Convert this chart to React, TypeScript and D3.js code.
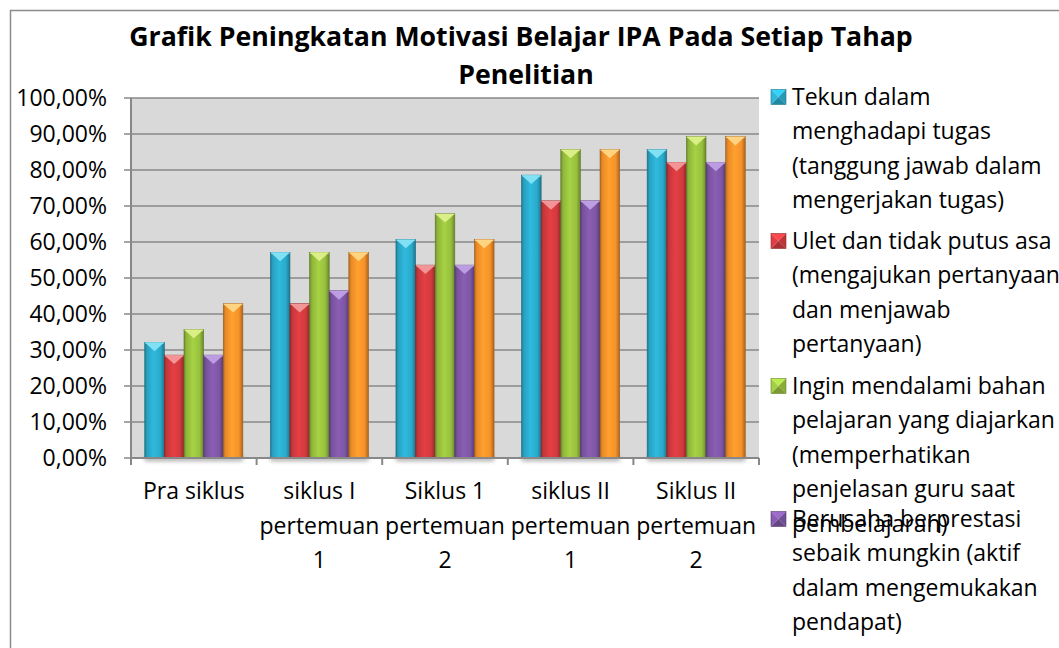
import React from "react";
import * as d3 from "d3";

// ---------- data ----------
const categoryLines: string[][] = [
  ["Pra siklus"],
  ["siklus I", "pertemuan", "1"],
  ["Siklus 1", "pertemuan", "2"],
  ["siklus II", "pertemuan", "1"],
  ["Siklus II", "pertemuan", "2"],
];
const categories = categoryLines.map((l) => l.join(" "));

const tekun = [0.3214, 0.5714, 0.6071, 0.7857, 0.8571];
const ulet = [0.2857, 0.4286, 0.5357, 0.7143, 0.8214];
const ingin = [0.3571, 0.5714, 0.6786, 0.8571, 0.8929];
const berusaha = [0.2857, 0.4643, 0.5357, 0.7143, 0.8214];
const seri5 = [0.4286, 0.5714, 0.6071, 0.8571, 0.8929];

const seriesValues = [tekun, ulet, ingin, berusaha, seri5];
const seriesColors = ["#2AAACB", "#D13A3E", "#98C03E", "#7E56A5", "#F6922A"];
const seriesCaps = ["#86E3F6", "#F3999B", "#DDF08A", "#BFA0E6", "#FFD785"];

const legendLines: string[][] = [
  ["Tekun dalam", "menghadapi tugas", "(tanggung jawab dalam", "mengerjakan tugas)"],
  ["Ulet dan tidak putus asa", "(mengajukan pertanyaan", "dan menjawab", "pertanyaan)"],
  ["Ingin mendalami bahan", "pelajaran yang diajarkan", "(memperhatikan", "penjelasan guru saat", "pembelajaran)"],
  ["Berusaha berprestasi", "sebaik mungkin (aktif", "dalam mengemukakan", "pendapat)"],
];

const titleLines = ["Grafik Peningkatan Motivasi Belajar IPA Pada Setiap Tahap", "Penelitian"];
const yTicks = [0, 0.1, 0.2, 0.3, 0.4, 0.5, 0.6, 0.7, 0.8, 0.9, 1.0];

// ---------- layout ----------
const W = 1059;
const H = 648;
const plot = { left: 131, right: 759, top: 98, bottom: 458 };
const FONT = "'Open Sans', sans-serif";
const FS = 23;
const GRID = "#888888";
const legendEntryY = [97, 241, 386, 519];

export default function App() {
  const x = d3.scaleBand<string>().domain(categories).range([plot.left, plot.right]).paddingInner(0).paddingOuter(0);
  const x1 = d3
    .scaleBand<number>()
    .domain(d3.range(seriesValues.length))
    .range([0, x.bandwidth()])
    .paddingInner(0)
    .paddingOuter(0.7);
  const y = d3.scaleLinear().domain([0, 1]).range([plot.bottom, plot.top]);
  const fmt = (v: number) => (v * 100).toFixed(2).replace(".", ",") + "%";
  const bw = x1.bandwidth();
  const lineH = 34.4;

  return (
    <svg
      width={W}
      height={H}
      style={{ position: "absolute", left: 0, top: 0, background: "#fff" }}
      fontFamily={FONT}
    >
      <defs>
        {seriesColors.map((c, i) => {
          const base = d3.color(c)!;
          return (
            <linearGradient id={`g${i}`} key={i} x1="0" x2="1" y1="0" y2="0">
              <stop offset="0" stopColor={base.darker(0.9).formatHex()} />
              <stop offset="0.12" stopColor={base.darker(0.15).formatHex()} />
              <stop offset="0.45" stopColor={base.brighter(0.25).formatHex()} />
              <stop offset="0.8" stopColor={base.formatHex()} />
              <stop offset="1" stopColor={base.darker(1.0).formatHex()} />
            </linearGradient>
          );
        })}
        <filter id="blur" x="-20%" y="-200%" width="140%" height="500%">
          <feGaussianBlur stdDeviation="2" />
        </filter>
      </defs>

      {/* outer chart border */}
      <rect x={10.5} y={10.5} width={W + 50} height={H + 50} fill="#fff" stroke="#8c8c8c" strokeWidth={1.5} />

      {/* title */}
      {titleLines.map((t, i) => (
        <text
          key={i}
          x={i === 0 ? 521 : 526}
          y={i === 0 ? 46 : 84}
          textAnchor="middle"
          fontWeight="bold"
          fontSize={26.7}
          fill="#000"
        >
          {t}
        </text>
      ))}

      {/* plot background */}
      <rect x={plot.left} y={plot.top} width={plot.right - plot.left} height={plot.bottom - plot.top} fill="#D9D9D9" />

      {/* gridlines */}
      {yTicks.map((t) => (
        <line key={t} x1={plot.left - 7} x2={plot.right} y1={y(t)} y2={y(t)} stroke={GRID} strokeWidth={1.6} />
      ))}

      {/* y axis */}
      <line x1={plot.left} x2={plot.left} y1={plot.top} y2={plot.bottom} stroke={GRID} strokeWidth={2} />
      {yTicks.map((t) => (
        <text key={t} x={107} y={y(t)} dy="0.35em" textAnchor="end" fontSize={FS} fill="#000">
          {fmt(t)}
        </text>
      ))}

      {/* shadows under groups */}
      {categories.map((c) => (
        <rect
          key={c}
          x={(x(c) ?? 0) + (x1(0) ?? 0)}
          y={plot.bottom - 1}
          width={bw * seriesValues.length}
          height={4}
          fill="#000"
          opacity={0.35}
          filter="url(#blur)"
        />
      ))}

      {/* bars */}
      {seriesValues.map((vals, si) =>
        vals.map((v, ci) => {
          const bx = (x(categories[ci]) ?? 0) + (x1(si) ?? 0);
          const by = y(v);
          const bh = plot.bottom - by;
          const capH = Math.min(bw * 0.45, bh);
          const dark = d3.color(seriesColors[si])!.darker(1.3).formatHex();
          return (
            <g key={`${si}-${ci}`}>
              <rect x={bx} y={by} width={bw} height={bh} fill={`url(#g${si})`} stroke={dark} strokeWidth={0.6} />
              <polygon
                points={`${bx + 0.5},${by + 0.5} ${bx + bw - 0.5},${by + 0.5} ${bx + bw / 2},${by + capH}`}
                fill={seriesCaps[si]}
                opacity={0.95}
              />
              <line x1={bx + 0.5} x2={bx + bw - 0.5} y1={by + 0.6} y2={by + 0.6} stroke={seriesCaps[si]} strokeWidth={1.2} />
            </g>
          );
        })
      )}

      {/* x axis */}
      <line x1={plot.left} x2={plot.right} y1={plot.bottom} y2={plot.bottom} stroke={GRID} strokeWidth={2} />
      {[...categories.map((c) => x(c) ?? 0), plot.right].map((px, i) => (
        <line key={i} x1={px} x2={px} y1={plot.bottom} y2={plot.bottom + 7} stroke={GRID} strokeWidth={2} />
      ))}
      {categoryLines.map((lines, ci) =>
        lines.map((l, li) => (
          <text
            key={`${ci}-${li}`}
            x={(x(categories[ci]) ?? 0) + x.bandwidth() / 2}
            y={491 + li * 34.5}
            dy="0.35em"
            textAnchor="middle"
            fontSize={FS}
            fill="#000"
          >
            {l}
          </text>
        ))
      )}

      {/* legend */}
      {legendLines.map((lines, i) => {
        const cy = legendEntryY[i];
        const c = d3.color(seriesColors[i])!;
        const s = 15;
        const mx = 771;
        const my = cy - s / 2;
        const ctr = `${mx + s / 2},${my + s / 2}`;
        return (
          <g key={i}>
            <polygon points={`${mx},${my} ${mx + s},${my} ${ctr}`} fill={c.brighter(0.6).formatHex()} />
            <polygon points={`${mx + s},${my} ${mx + s},${my + s} ${ctr}`} fill={c.darker(0.3).formatHex()} />
            <polygon points={`${mx},${my + s} ${mx + s},${my + s} ${ctr}`} fill={c.darker(0.6).formatHex()} />
            <polygon points={`${mx},${my} ${mx},${my + s} ${ctr}`} fill={c.brighter(0.2).formatHex()} />
            <rect x={mx} y={my} width={s} height={s} fill="none" stroke={c.darker(1).formatHex()} strokeWidth={0.6} />
            {lines.map((l, li) => (
              <text key={li} x={792} y={cy + li * lineH} dy="0.35em" fontSize={FS} fill="#000">
                {l}
              </text>
            ))}
          </g>
        );
      })}
    </svg>
  );
}
